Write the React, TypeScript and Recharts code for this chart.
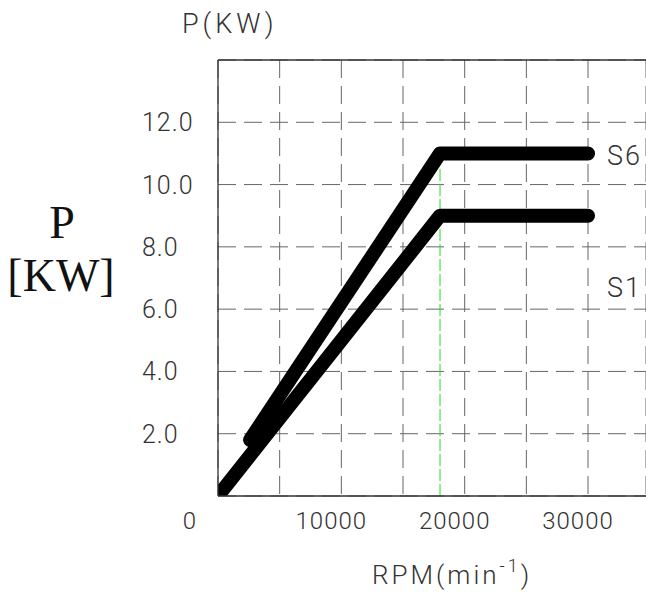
import React from 'react';
import { LineChart, Line, XAxis, YAxis, CartesianGrid, ReferenceLine } from 'recharts';

// grid / tick values
const rpmTicks = [0, 5000, 10000, 15000, 20000, 25000, 30000];
const rpmLabels = [0, 10000, 20000, 30000];
const powerTicks = [0, 2, 4, 6, 8, 10, 12, 14];
const powerLabels = [2, 4, 6, 8, 10, 12];

// S1 continuous duty
const s1Rpm = [0, 18000, 30000];
const s1Power = [0, 9, 9];

// S6 intermittent duty
const s6Rpm = [2600, 18000, 30000];
const s6Power = [1.8, 11, 11];

const baseSpeed = 18000;

const W = 646;
const H = 592;
const LEFT = 218;
const TOP = 60;
const PLOT_H = 436;
const Y_AXIS_W = 90;
const X_AXIS_H = 50;
const BOTTOM = H - TOP - PLOT_H - X_AXIS_H;
const CAD_FONT = 'Roboto, "DejaVu Sans", sans-serif';
const TEXT = '#333';

const s1Data = s1Rpm.map((rpm, i) => ({ rpm, p: s1Power[i] }));
const s6Data = s6Rpm.map((rpm, i) => ({ rpm, p: s6Power[i] }));

function RpmTick(props: any) {
  const v = props.payload.value;
  if (!rpmLabels.includes(v)) return null;
  const dx = v === 0 ? -28 : -10;
  return (
    <text
      x={props.x + dx}
      y={TOP + PLOT_H + 33}
      textAnchor="middle"
      fontFamily={CAD_FONT}
      fontWeight={300}
      fontSize={24}
      letterSpacing={1}
      fill={TEXT}
    >
      {v}
    </text>
  );
}

function PowerTick(props: any) {
  const v = props.payload.value;
  if (!powerLabels.includes(v)) return null;
  return (
    <text
      x={LEFT - 76}
      y={props.y + 9}
      textAnchor="start"
      fontFamily={CAD_FONT}
      fontWeight={300}
      fontSize={25}
      letterSpacing={1}
      fill={TEXT}
    >
      {v.toFixed(1)}
    </text>
  );
}

export default function App() {
  return (
    <div style={{ position: 'absolute', left: 0, top: 0, width: W, height: H, overflow: 'hidden' }}>
      <LineChart
        width={W}
        height={H}
        margin={{ top: TOP, right: 0, left: LEFT - Y_AXIS_W, bottom: BOTTOM }}
      >
        <CartesianGrid stroke="#666" strokeDasharray="18 8" />
        <XAxis
          type="number"
          dataKey="rpm"
          domain={[0, 34700]}
          allowDataOverflow
          ticks={rpmTicks}
          interval={0}
          tick={<RpmTick />}
          tickLine={false}
          height={X_AXIS_H}
          axisLine={{ stroke: '#333', strokeWidth: 1.3 }}
        />
        <YAxis
          type="number"
          dataKey="p"
          domain={[0, 14]}
          allowDataOverflow
          ticks={powerTicks}
          interval={0}
          tick={<PowerTick />}
          tickLine={false}
          width={Y_AXIS_W}
          axisLine={{ stroke: '#333', strokeWidth: 1.3 }}
        />
        <ReferenceLine y={14} stroke="#333" strokeWidth={1.3} />
        <ReferenceLine
          segment={[{ x: baseSpeed, y: 0 }, { x: baseSpeed, y: 10.6 }]}
          stroke="#22dd22"
          strokeDasharray="12 3"
          strokeWidth={1}
        />
        <Line
          data={s1Data}
          dataKey="p"
          stroke="#000"
          strokeWidth={14}
          strokeLinecap="round"
          strokeLinejoin="round"
          dot={false}
          isAnimationActive={false}
        />
        <Line
          data={s6Data}
          dataKey="p"
          stroke="#000"
          strokeWidth={14}
          strokeLinecap="round"
          strokeLinejoin="round"
          dot={false}
          isAnimationActive={false}
        />
      </LineChart>
      <svg
        width={W}
        height={H}
        style={{ position: 'absolute', left: 0, top: 0, pointerEvents: 'none' }}
      >
        <text x={182} y={33} fontFamily={CAD_FONT} fontWeight={300} fontSize={27} letterSpacing={4} fill={TEXT}>
          P(KW)
        </text>
        <text x={62} y={238} textAnchor="middle" fontFamily='"Liberation Serif", serif' fontSize={46} fill="#111">
          P
        </text>
        <text x={61} y={291} textAnchor="middle" fontFamily='"Liberation Serif", serif' fontSize={46} fill="#111">
          [KW]
        </text>
        <text x={372} y={584} fontFamily={CAD_FONT} fontWeight={300} fontSize={26} letterSpacing={3} fill={TEXT}>
          RPM(min
          <tspan dy={-12} fontSize={18}>-1</tspan>
          <tspan dy={12}>)</tspan>
        </text>
        <text x={607} y={165} fontFamily={CAD_FONT} fontWeight={300} fontSize={27} letterSpacing={2} fill={TEXT}>
          S6
        </text>
        <text x={607} y={297} fontFamily={CAD_FONT} fontWeight={300} fontSize={27} letterSpacing={2} fill={TEXT}>
          S1
        </text>
      </svg>
    </div>
  );
}
